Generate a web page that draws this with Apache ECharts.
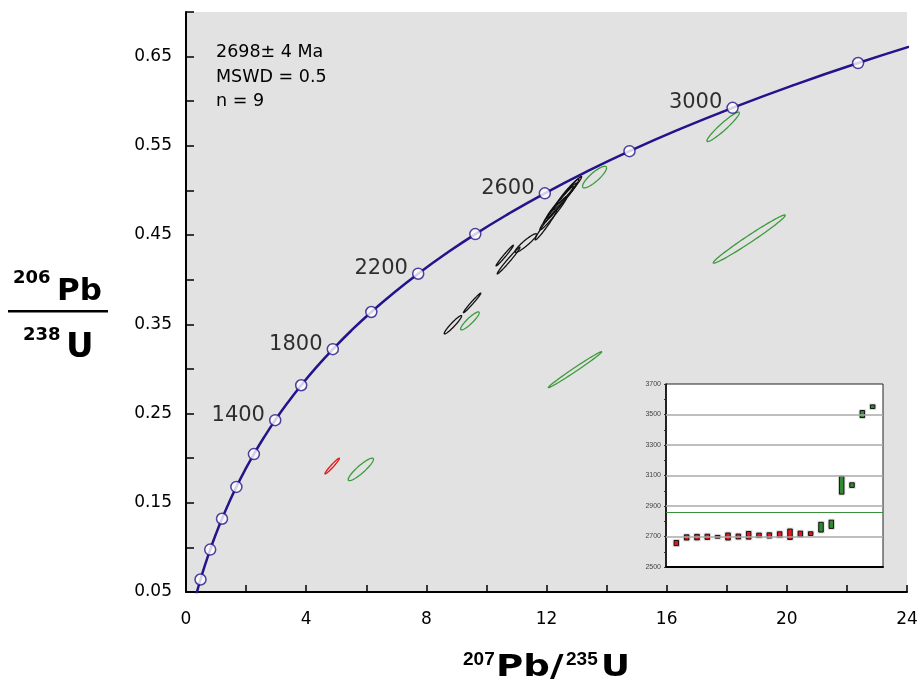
<!DOCTYPE html>
<html><head><meta charset="utf-8">
<script src="https://cdn.jsdelivr.net/npm/echarts@6/dist/echarts.min.js"></script>
<style>html,body{margin:0;padding:0;background:#fff}#c{width:921px;height:685px}</style>
</head><body><div id="c"></div>
<script>
// Concordia curve: ages (Ma) and ratios
const concAges = [300,400,500,600,700,800,900,1000,1100,1200,1300,1400,1500,1600,1700,1800,1900,2000,2100,2200,2300,2400,2500,2600,2700,2800,2900,3000,3100,3200,3300];
const concX = [0.3437,0.4828,0.6362,0.8056,0.9925,1.1988,1.4264,1.6774,1.9546,2.2603,2.5978,2.9701,3.3810,3.8344,4.3348,4.8868,5.4962,6.1686,6.9106,7.7294,8.6330,9.6299,10.7301,11.9442,13.2838,14.7622,16.3935,18.1937,20.1802,22.3721,24.7911];
const concY = [0.0476,0.0640,0.0806,0.0975,0.1147,0.1321,0.1498,0.1678,0.1861,0.2046,0.2234,0.2426,0.2620,0.2817,0.3018,0.3221,0.3428,0.3638,0.3851,0.4067,0.4287,0.4511,0.4737,0.4968,0.5202,0.5440,0.5681,0.5926,0.6175,0.6428,0.6685];
const markerAges = [400,600,800,1000,1200,1400,1600,1800,2000,2200,2400,2600,2800,3000,3200];
const labeledAges = [1400,1800,2200,2600,3000];

// Error ellipses: [x centre, y centre, x half-width, y half-width, correlation]
const blackEllipses = [
  [10.61,0.427,0.29,0.0116,0.985],
  [10.74,0.4215,0.38,0.015,0.985],
  [11.31,0.441,0.36,0.0105,0.93],
  [11.98,0.4614,0.36,0.0168,0.975],
  [12.23,0.4745,0.45,0.0187,0.975],
  [12.50,0.4885,0.50,0.0196,0.98],
  [12.40,0.484,0.50,0.0205,0.985],
  [12.70,0.497,0.47,0.0187,0.98],
  [12.72,0.499,0.36,0.014,0.97],
  [8.885,0.3495,0.29,0.0103,0.95],
  [9.525,0.374,0.29,0.011,0.985]
];
const greenEllipses = [
  [13.60,0.515,0.40,0.0121,0.85],
  [17.88,0.5713,0.54,0.0165,0.95],
  [18.75,0.4455,1.20,0.027,0.985],
  [12.95,0.2992,0.89,0.0202,0.992],
  [9.45,0.3538,0.31,0.0101,0.9],
  [5.82,0.1874,0.42,0.0126,0.9]
];
const redEllipses = [
  [4.865,0.1911,0.24,0.0088,0.97]
];

// Inset: ages (Ma) with 2σ errors
const insetIndex = [1,2,3,4,5,6,7,8,9,10,11,12,13,14,15,16,17,18,19,20];
const insetAge = [2657,2694,2696,2698,2698,2700,2700,2708,2708,2707,2713,2715,2717,2719,2761,2780,3036,3037,3503,3551];
const insetErr = [17,17,18,17,9,23,16,25,14,17,18,34,18,12,32,27,58,15,23,12];
const insetGroup = ['r','r','r','r','r','r','r','r','r','r','r','r','r','r','g','g','g','g','g','g'];
const insetGridVals = [2700,2900,3100,3300,3500];
const insetMean = 2856;

const NAVY = '#23148c';
const chart = echarts.init(document.getElementById('c'));

function ellipseSeries(data, color){
  return {
    type:'custom', xAxisIndex:0, yAxisIndex:0, data:data, z:3,
    renderItem:function(params, api){
      const cx=api.value(0), cy=api.value(1), sx=api.value(2), sy=api.value(3), r=api.value(4);
      const k=Math.sqrt(1-r*r); const pts=[];
      for(let i=0;i<=90;i++){const t=i/90*2*Math.PI;
        pts.push(api.coord([cx+sx*Math.cos(t), cy+sy*(r*Math.cos(t)+k*Math.sin(t))]));}
      return {type:'polyline', shape:{points:pts}, style:{fill:null, stroke:color, lineWidth:1.3}};
    }
  };
}

const markerData = markerAges.map(a=>{
  const i = concAges.indexOf(a);
  const d = {value:[concX[i], concY[i]]};
  if(labeledAges.indexOf(a)>=0){
    d.label = {show:true, formatter:String(a), position:'left', distance:4, offset:[0,-5],
      fontSize:21, fontFamily:'DejaVu Sans', color:'#000'};
  }
  return d;
});

const font = 'DejaVu Sans';
const option = {
  animation:false,
  backgroundColor:'#fff',
  grid:[
    {left:186, top:12, width:721, height:580, show:true, backgroundColor:'#e2e2e2', borderWidth:0},
    {left:666, top:384, width:217, height:183, show:true, backgroundColor:'#fff', borderColor:'#222', borderWidth:1}
  ],
  xAxis:[
    {type:'value', gridIndex:0, min:0, max:24, interval:2,
     axisLine:{show:true, onZero:false, lineStyle:{color:'#000', width:2}},
     axisTick:{show:true, inside:true, length:7, lineStyle:{color:'#000', width:1.5}},
     axisLabel:{fontSize:17, fontFamily:font, color:'#000', margin:19,
       formatter:v=> (Math.round(v)%4===0 ? String(Math.round(v)) : '')},
     splitLine:{show:false}},
    {type:'value', gridIndex:1, min:0, max:21,
     axisLine:{show:true, onZero:false, lineStyle:{color:'#000', width:2}},
     axisTick:{show:false}, axisLabel:{show:false}, splitLine:{show:false}}
  ],
  yAxis:[
    {type:'value', gridIndex:0, min:0.05, max:0.70, interval:0.05,
     axisLine:{show:true, onZero:false, lineStyle:{color:'#000', width:2}},
     axisTick:{show:true, inside:true, length:8, lineStyle:{color:'#000', width:1.5}},
     axisLabel:{fontSize:17, fontFamily:font, color:'#000', margin:14,
       formatter:v=>{const n=Math.round(v*100); return (n%10===5) ? (n/100).toFixed(2) : '';}},
     splitLine:{show:false}},
    {type:'value', gridIndex:1, min:2500, max:3700, interval:100,
     axisLine:{show:true, onZero:false, lineStyle:{color:'#000', width:1.5}},
     axisTick:{show:true, length:2, lineStyle:{color:'#333'}},
     axisLabel:{fontSize:7, fontFamily:'Liberation Sans', color:'#444', margin:5,
       formatter:v=>((Math.round(v)-2500)%200===0 ? String(Math.round(v)) : '')},
     splitLine:{show:false}}
  ],
  series:[
    {type:'line', xAxisIndex:0, yAxisIndex:0, data:concX.map((x,i)=>[x,concY[i]]),
     smooth:true, symbol:'none', lineStyle:{color:NAVY, width:2.5}, clip:true, z:4},
    ellipseSeries(blackEllipses,'#111'),
    ellipseSeries(greenEllipses,'#3c9a3c'),
    ellipseSeries(redEllipses,'#e01818'),
    {type:'scatter', xAxisIndex:0, yAxisIndex:0, data:markerData, symbol:'circle', symbolSize:11, z:5,
     itemStyle:{color:'#fff', borderColor:NAVY, borderWidth:1.5}},
    {type:'custom', xAxisIndex:1, yAxisIndex:1, z:3,
     data:insetIndex.map((x,i)=>[x, insetAge[i], insetErr[i], insetGroup[i]==='r'?0:1]),
     renderItem:function(params, api){
       const x=api.value(0), v=api.value(1), e=api.value(2), g=api.value(3);
       const top=api.coord([x,v+e]), bot=api.coord([x,v-e]); const w=4.5;
       return {type:'group', children:[
         {type:'rect', shape:{x:top[0]-w/2-1.5, y:top[1]-1.5, width:w+3, height:bot[1]-top[1]+3}, style:{fill:'rgba(0,0,0,0.12)'}},
         {type:'rect', shape:{x:top[0]-w/2, y:top[1], width:w, height:bot[1]-top[1]},
          style:{fill:g?'#2e8b2e':'#e8141c', stroke:'#111', lineWidth:1}}
       ]};
     }},
    {type:'line', xAxisIndex:1, yAxisIndex:1, data:[], z:2,
     markLine:{silent:true, symbol:'none', label:{show:false},
       data:insetGridVals.map(v=>({yAxis:v, lineStyle:{color:'#aaa', width:1.5, type:'solid'}}))
         .concat([{yAxis:insetMean, lineStyle:{color:'#3c8f3c', width:1, type:'solid'}}])}}
  ],
  graphic:[
    {type:'text', x:216, y:52, style:{text:'2698± 4 Ma', font:'17.5px DejaVu Sans', fill:'#000', verticalAlign:'middle'}},
    {type:'text', x:216, y:77, style:{text:'MSWD = 0.5', font:'17.5px DejaVu Sans', fill:'#000', verticalAlign:'middle'}},
    {type:'text', x:216, y:101, style:{text:'n = 9', font:'17.5px DejaVu Sans', fill:'#000', verticalAlign:'middle'}},
    // y title
    {type:'text', x:13, y:278, style:{text:'206', font:'bold 18px DejaVu Sans', fill:'#000', verticalAlign:'middle'}},
    {type:'text', x:57, y:292, style:{text:'Pb', font:'bold 31px DejaVu Sans', fill:'#000', verticalAlign:'middle'}},
    {type:'rect', shape:{x:8, y:310, width:100, height:2.5}, style:{fill:'#000'}},
    {type:'text', x:23, y:335, style:{text:'238', font:'bold 18px DejaVu Sans', fill:'#000', verticalAlign:'middle'}},
    {type:'text', x:66, y:348, style:{text:'U', font:'bold 34px DejaVu Sans', fill:'#000', verticalAlign:'middle'}},
    // x title
    {type:'text', x:463, y:660, style:{text:'207', font:'bold 19px Liberation Sans', fill:'#000', verticalAlign:'middle'}},
    {type:'text', x:496, y:668, scaleX:1.2, style:{text:'Pb/', font:'bold 31px DejaVu Sans', fill:'#000', verticalAlign:'middle'}},
    {type:'text', x:566, y:660, style:{text:'235', font:'bold 19px Liberation Sans', fill:'#000', verticalAlign:'middle'}},
    {type:'text', x:601, y:668, scaleX:1.15, style:{text:'U', font:'bold 31px DejaVu Sans', fill:'#000', verticalAlign:'middle'}}
  ]
};
chart.setOption(option);
</script></body></html>
